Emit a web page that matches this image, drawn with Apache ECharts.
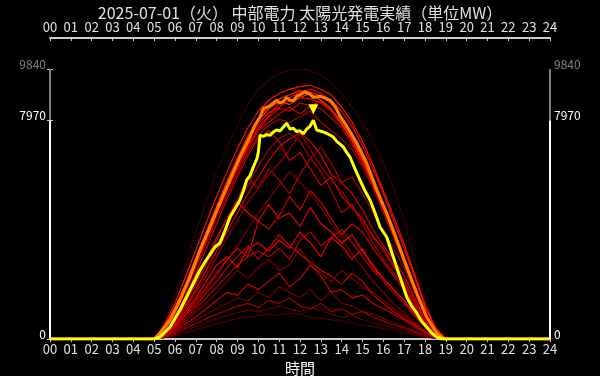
<!DOCTYPE html>
<html>
<head>
<meta charset="utf-8">
<script src="https://cdn.jsdelivr.net/npm/echarts@6/dist/echarts.min.js"></script>
<style>
  html, body { margin: 0; padding: 0; background: #000; }
  #chart { width: 600px; height: 376px; }
</style>
</head>
<body>
<div id="chart"></div>
<script>
// 時刻ラベル
const hourLabels = ['00','01','02','03','04','05','06','07','08','09','10','11','12',
  '13','14','15','16','17','18','19','20','21','22','23','24']
// 縦軸ラベル (0 / 当日最大 / 過去最大)
const yLabels = [0, 7970, 9840]

// 過去日 (30分毎 5:00〜19:00)
const pastTimes = [5,5.5,6,6.5,7,7.5,8,8.5,9,9.5,10,10.5,11,11.5,12,12.5,13,13.5,14,14.5,15,15.5,16,16.5,17,17.5,18,18.5,19]
const past01 = [0,450,1150,2000,2950,3900,4850,5750,6600,7400,8050,8500,8750,8900,9050,9000,8850,8600,8100,7500,6800,5900,4950,4000,3000,1950,950,300,0]
const past02 = [0,420,1100,1950,2900,3850,4750,5650,6450,7200,7850,8250,8450,8700,8800,8750,8600,8350,7950,7350,6650,5800,4900,3950,2950,1900,900,280,0]
const past03 = [0,400,1080,1900,2850,3800,4700,5550,6350,7050,7700,8150,8600,8800,9000,9100,8950,8700,8300,7750,7050,6200,5300,4300,3300,2250,1150,380,0]
const past04 = [0,430,1120,1980,2920,3880,4800,5700,6550,7300,7950,8400,8650,8550,8800,8950,8700,8400,7850,7250,6550,5700,4800,3900,2950,1900,920,290,0]
const past05 = [0,380,1000,1800,2700,3600,4550,5400,6200,6950,7600,8100,8400,8300,8600,8500,8650,8300,7800,7200,6500,5650,4750,3850,2900,1850,880,260,0]
const past06 = [0,400,1050,1850,2800,3700,4600,5500,6300,7100,7600,7900,8200,8450,8200,8500,8400,8050,7700,7100,6400,5600,4700,3800,2850,1800,850,250,0]
const past07 = [0,520,1300,2250,3250,4250,5200,6100,6950,7700,8300,8700,8950,9100,9200,9250,9100,8900,8450,7900,7200,6350,5400,4450,3450,2350,1250,420,0]
const past08 = [0,350,950,1700,2600,3500,4400,5250,6050,6800,7400,7800,8000,7900,8100,8300,7900,7600,7300,6900,6300,5500,4600,3700,2750,1750,820,240,0]
const past09 = [0,300,850,1550,2400,3300,4200,5100,5900,6700,7300,7600,7200,6500,6800,6200,5600,5900,5200,4800,4400,3700,3300,2700,2100,1400,700,200,0]
const past10 = [0,250,700,1300,2000,2700,3400,4100,4900,5600,6300,6900,7300,7500,7200,6600,7000,6400,5700,5900,5300,4600,3900,3300,2600,1700,850,250,0]
const past11 = [0,200,600,1100,1700,2300,3000,3700,4300,5000,5500,6000,6400,6900,7500,6900,6300,5800,5400,4800,4300,3800,3200,2600,2000,1300,650,180,0]
const past12 = [0,220,650,1200,1800,2500,3200,3900,4600,5300,5900,6500,7000,7300,7500,7200,6700,6000,5700,5300,4700,4000,3400,2900,2300,1500,700,200,0]
const past13 = [0,250,700,1300,2000,2800,3600,4400,5100,5900,5500,6200,5800,5300,6000,6600,6100,5400,4600,4900,4200,3500,2900,2400,1900,1200,600,170,0]
const past14 = [0,180,500,900,1400,1900,2400,2900,3300,3000,4300,4000,4500,5200,4700,5400,5000,4400,3800,4200,3900,3300,2800,2300,1800,1200,600,160,0]
const past15 = [0,150,450,850,1300,1800,2300,2900,3400,4000,4600,5100,5600,6100,5700,5300,4800,4200,3700,3100,2600,2100,1700,1300,950,600,300,90,0]
const past16 = [0,200,550,1000,1500,2100,2700,3000,2600,3300,3500,3200,3600,3300,3900,3500,3000,3700,3400,2900,3300,2600,2200,1800,1400,900,450,130,0]
const past17 = [0,150,400,750,1100,1500,1900,2300,2700,3000,3200,3000,3300,2900,3600,3900,3400,3700,4000,3500,3000,2500,2100,1700,1300,850,420,120,0]
const past18 = [0,120,350,650,1000,1300,1700,2100,2500,2200,2600,2900,2500,2700,3300,2700,2400,2100,2500,2200,1900,1700,1400,1100,850,550,280,80,0]
const past19 = [0,100,300,550,800,1100,1400,1700,1600,2000,1800,2100,2400,1900,2200,2700,2300,1700,1800,1500,1600,1300,1100,900,700,450,230,70,0]
const past20 = [0,100,250,450,700,900,1100,1300,1500,1400,1700,1500,1900,1700,1500,1800,1400,1700,1300,1200,1000,900,750,600,450,300,150,50,0]
const past21 = [0,80,200,380,550,750,900,1050,1200,1300,1150,1400,1300,1500,1200,1100,1300,1000,1100,900,1000,800,650,520,400,260,130,40,0]
const past22 = [0,60,160,300,450,600,750,850,950,1050,1000,1100,1200,1100,1000,1150,1050,900,800,850,700,600,500,400,300,200,100,30,0]
const past23 = [0,50,120,220,330,450,550,650,750,800,850,900,850,950,900,800,750,700,650,600,500,450,380,300,220,150,80,20,0]
const past24 = [0,150,450,850,1200,1700,2100,2600,3000,3400,2900,3300,3800,3400,3100,2800,2500,2300,2000,2400,2100,1600,1300,1000,750,500,250,70,0]
const past25 = [0,260,720,1350,2100,2900,3700,4400,5000,4600,4300,4900,4400,4600,4100,4800,4200,3900,3500,3800,3200,2700,2200,1800,1400,900,450,130,0]
const pastMax = [0,600,1550,2700,3900,5000,6100,7000,7800,8550,9100,9450,9680,9800,9840,9780,9620,9350,8950,8450,7900,7200,6400,5500,4300,2900,1400,400,0]

// 前日
const prevTimes = [0,5.0,5.28,5.76,6.24,6.72,7.2,7.68,8.16,8.64,9.12,9.6,9.84,10.08,10.24,10.56,10.88,11.04,11.2,11.36,11.52,11.68,11.84,12.0,12.24,12.48,12.64,12.96,13.2,13.44,13.7,13.9,14.2,14.48,14.72,15.2,15.68,16.16,16.64,17.12,17.6,18.08,18.56,18.9,24]
const prevValues = [0,0,219,692,1421,2260,3243,4082,4956,5794,6633,7362,7800,8091,8400,8500,8700,8601,8650,8800,8700,8680,8850,8900,9000,8920,8800,8850,8780,8700,8450,8150,7800,7450,7143,6414,5430,4592,3608,2624,1676,802,219,0,0]

// 当日
const todayTimes = [0,5.0,5.28,5.76,6.24,6.72,7.2,7.56,7.92,8.16,8.4,8.64,8.88,9.12,9.28,9.44,9.6,9.76,9.92,10.0,10.08,10.24,10.4,10.56,10.72,10.88,11.04,11.2,11.36,11.52,11.68,11.84,12.0,12.16,12.32,12.48,12.64,12.8,12.96,13.12,13.28,13.44,13.6,13.76,13.92,14.08,14.24,14.4,14.64,14.88,15.12,15.36,15.6,15.84,16.0,16.16,16.32,16.48,16.64,16.8,16.96,17.12,17.36,17.6,17.84,18.08,18.32,18.56,18.8,24]
const todayValues = [0,0,70,437,1057,1786,2515,2950,3353,3499,3950,4446,4750,5066,5400,5794,5950,6268,6550,6800,7434,7380,7450,7420,7544,7620,7580,7726,7860,7650,7680,7560,7590,7480,7650,7750,7970,7617,7580,7544,7490,7434,7360,7200,7100,6997,6800,6633,6200,5794,5400,5066,4600,4082,3900,3717,3350,2988,2620,2260,1900,1531,1200,948,650,437,220,73,0,0]

const pastSets = [pastMax, past23, past22, past20, past18, past15, past21, past19, past24, past17, past16,
  past14, past25, past13, past11, past10, past12, past09, past08, past06, past05, past04, past02, past03, past01, past07]
const pastColors = ['#3a0000', '#4a0000', '#5a0000', '#700000', '#800000', '#800000', '#a00000', '#d00000', '#c80000', '#b80000', '#ee0000',
  '#d00000', '#f00000', '#b00000', '#990000', '#a00000', '#d80000', '#cc0000', '#b00000', '#cc0000', '#dd0000', '#ff3000', '#ff0000', '#ee0000', '#ff2000', '#ff1000']

const toPairs = (times, values) => times.map((t, i) => [t, values[i]])
const withNight = (times, values) => [[0, 0], ...toPairs(times, values), [24, 0]]

const chart = echarts.init(document.getElementById('chart'))
const font = "'Noto Sans CJK JP', 'Noto Sans', sans-serif"

const series = pastSets.map((vals, i) => ({
  type: 'line',
  data: withNight(pastTimes, vals),
  showSymbol: false,
  silent: true,
  lineStyle: { color: pastColors[i], width: 1.2 },
  z: 2
}))

series.push({
  type: 'line',
  data: toPairs(prevTimes, prevValues),
  showSymbol: false,
  lineStyle: { color: '#ff8000', width: 3 },
  z: 3
})

series.push({
  type: 'line',
  data: toPairs(todayTimes, todayValues),
  showSymbol: false,
  lineStyle: { color: '#ffff00', width: 3 },
  z: 4,
  markPoint: {
    symbol: 'triangle',
    symbolSize: 10,
    symbolRotate: 180,
    symbolOffset: [0, -11],
    itemStyle: { color: '#ffff00' },
    label: { show: false },
    data: [{ type: 'max' }]
  }
})

// 縦軸の線 (0〜当日最大は白、その上は灰色)
const axisSeg = (x) => [
  [{ coord: [x, yLabels[0]], lineStyle: { color: '#ffffff' } }, { coord: [x, yLabels[1]] }],
  [{ coord: [x, yLabels[1]], lineStyle: { color: '#808080' } }, { coord: [x, yLabels[2]] }]
]
series.push({
  type: 'line',
  data: [],
  z: 5,
  markLine: {
    symbol: 'none',
    silent: true,
    label: { show: false },
    lineStyle: { type: 'solid', width: 2 },
    data: [...axisSeg(0), ...axisSeg(24)]
  }
})

const xAxisBase = {
  type: 'value',
  min: 0,
  max: 24,
  interval: 1,
  splitLine: { show: false },
  axisLine: { onZero: false, lineStyle: { color: '#cccccc', width: 2 } },
  axisTick: { length: 3, lineStyle: { color: '#cccccc' } },
  axisLabel: {
    color: '#e0e0e0',
    fontSize: 13,
    fontFamily: font,
    margin: 4,
    formatter: (v) => hourLabels[v]
  }
}

const yAxisBase = {
  type: 'value',
  min: 0,
  max: yLabels[2],
  splitLine: { show: false },
  axisLine: { show: false },
  axisTick: {
    show: true,
    length: 3,
    customValues: yLabels,
    lineStyle: { color: '#cccccc' }
  },
  axisLabel: {
    customValues: yLabels,
    fontSize: 12,
    fontFamily: font,
    margin: 4,
    verticalAlign: 'bottom',
    lineHeight: 10,
    formatter: (v) => String(v),
    color: (v) => (Number(v) === yLabels[2] ? '#808080' : '#ffffff')
  }
}

chart.setOption({
  backgroundColor: '#000000',
  animation: false,
  title: {
    text: '2025-07-01（火） 中部電力 太陽光発電実績（単位MW）',
    left: 'center',
    top: 0,
    textStyle: { color: '#e0e0e0', fontSize: 16, fontWeight: 'normal', fontFamily: font }
  },
  grid: { left: 50, right: 50, top: 69, bottom: 37, outerBoundsMode: 'none' },
  xAxis: [
    {
      ...xAxisBase,
      position: 'bottom',
      name: '時間',
      nameLocation: 'middle',
      nameGap: 21,
      nameTextStyle: { color: '#ffffff', fontSize: 15, fontFamily: font }
    },
    {
      ...xAxisBase,
      position: 'top',
      offset: 31,
      axisTick: { ...xAxisBase.axisTick, inside: true }
    }
  ],
  yAxis: [
    { ...yAxisBase, position: 'left' },
    { ...yAxisBase, position: 'right' }
  ],
  series
})
</script>
</body>
</html>
